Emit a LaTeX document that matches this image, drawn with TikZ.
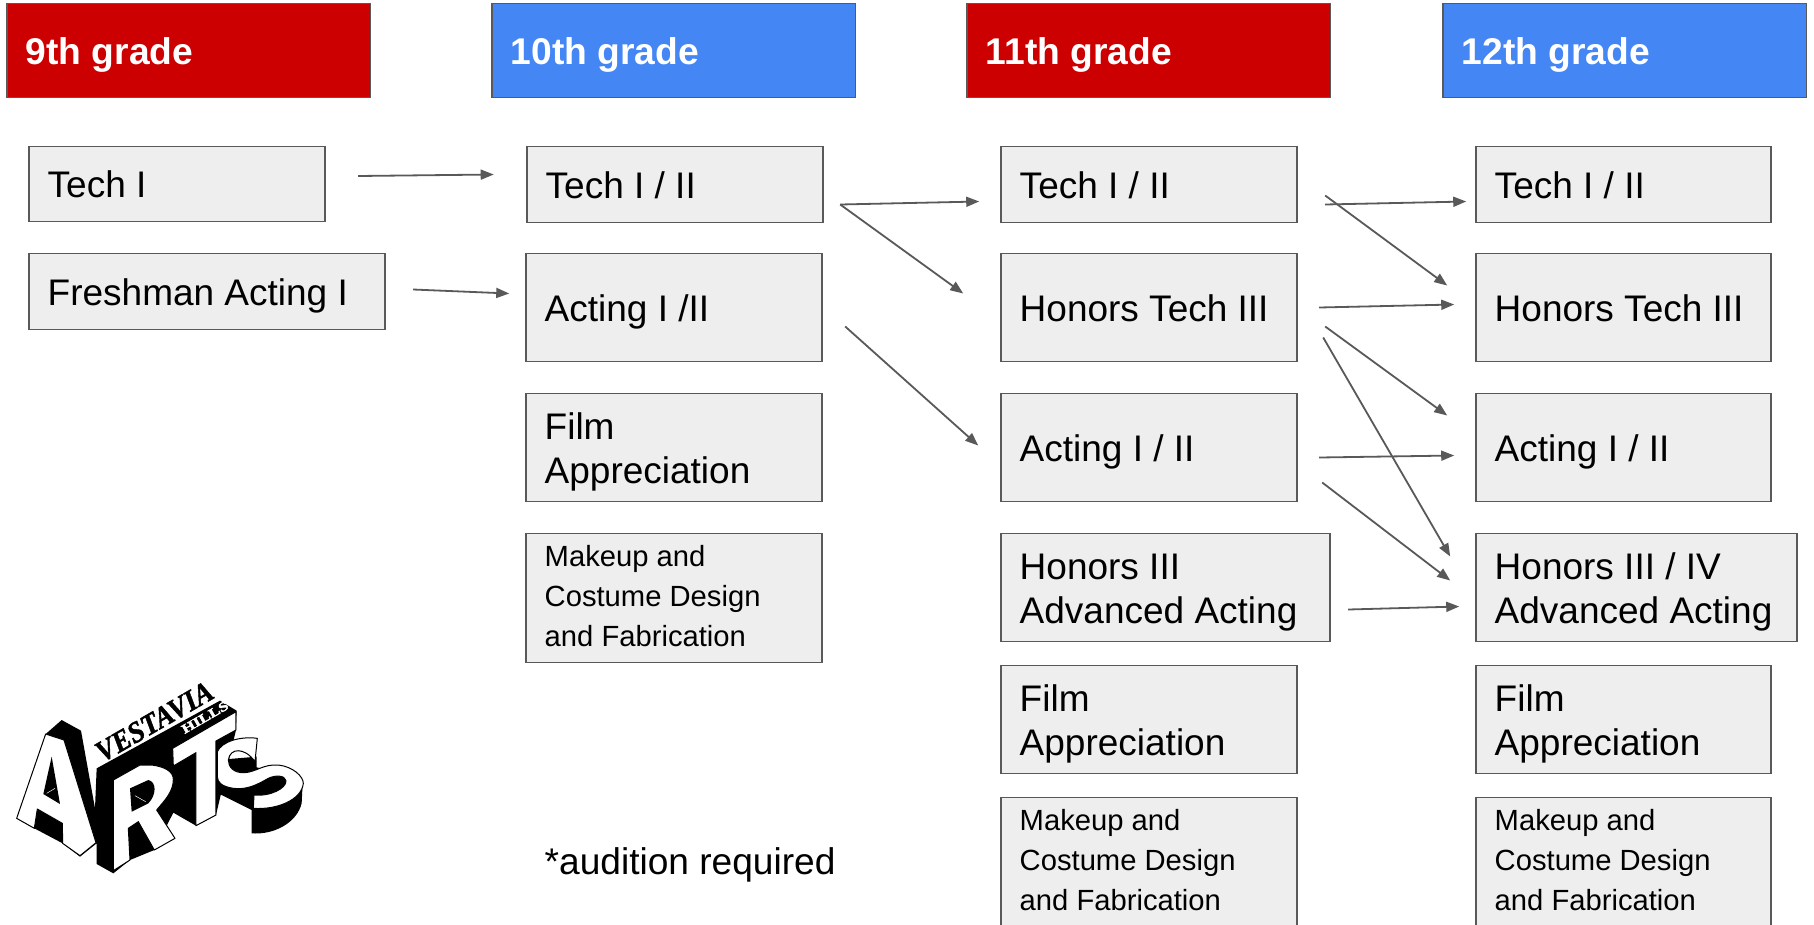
\documentclass[tikz,border=0pt]{standalone}
\usepackage{fontspec}
\setmainfont{Liberation Sans}
\newfontfamily\logoserif{Liberation Serif}[FakeBold=1.5]
\newfontfamily\logoplate{Liberation Serif}[FakeBold=2.5]
\usetikzlibrary{arrows.meta}
\definecolor{gredx}{HTML}{CC0000}
\definecolor{gbluex}{HTML}{4586F5}
\definecolor{gfillx}{HTML}{EEEEEE}
\definecolor{glinex}{HTML}{595959}
\tikzset{
 basebox/.style={draw=glinex,line width=1.7pt,rectangle,anchor=north west,outer sep=0pt,inner xsep=18.5pt,inner ysep=0pt,align=flush left,xshift=0.2pt,yshift=-0.5pt},
 bigtext/.style={font=\fontsize{37}{44}\selectfont,execute at begin node={\rule{0pt}{40pt}},execute at end node={\rule[-13pt]{0pt}{13pt}}},
 smalltext/.style={font=\fontsize{29.2}{40}\selectfont,execute at begin node={\rule{0pt}{30pt}},execute at end node={\rule[-13pt]{0pt}{13pt}}},
 hdr/.style 2 args={basebox,minimum width=#1pt,minimum height=#2pt,text width=#1pt-37pt,text=white,font=\fontsize{37.2}{44}\selectfont\bfseries,execute at begin node={\rule{0pt}{40pt}},execute at end node={\rule[-13pt]{0pt}{13pt}}},
 redhdr/.style={hdr={363.4}{94},fill=gredx},
 bluehdr/.style={hdr={363.4}{94},fill=gbluex},
 course/.style 2 args={basebox,bigtext,fill=gfillx,text=black,minimum width=#1pt,minimum height=#2pt,text width=#1pt-37pt},
 small/.style 2 args={basebox,smalltext,fill=gfillx,text=black,minimum width=#1pt,minimum height=#2pt,text width=#1pt-37pt},
 flow/.style={draw=glinex,line width=1.8pt,-{Triangle[length=13pt,width=10pt]}},
 ink/.style={fill=black,draw=none},
 face/.style={fill=white,draw=black,line width=1pt,line join=round},
}
\begin{document}
\begin{tikzpicture}[x=1pt,y=-1pt]
\clip (0,0) rectangle (1814,924);
\fill[white] (0,0) rectangle (1814,924);
% headers
\node[redhdr] (g9) at (7,3) {9th grade};
\node[bluehdr] (g10) at (492,3) {10th grade};
\node[redhdr] (g11) at (967,3) {11th grade};
\node[bluehdr] (g12) at (1443,3) {12th grade};
% 9th
\node[course={296}{75}] (tech1) at (29,146) {Tech I};
\node[course={356}{76}] (fresh) at (29,253) {Freshman Acting I};
% 10th
\node[course={296}{76}] (t10) at (527,146) {Tech I / II};
\node[course={296}{108}] (a10) at (526,253) {Acting I /II};
\node[course={296}{108}] (f10) at (526,393) {Film\\Appreciation};
\node[small={296}{129}] (m10) at (526,533) {Makeup and\\Costume Design\\and Fabrication};
% 11th
\node[course={296}{76}] (t11) at (1001,146) {Tech I / II};
\node[course={296}{108}] (h11) at (1001,253) {Honors Tech III};
\node[course={296}{108}] (a11) at (1001,393) {Acting I / II};
\node[course={329}{108}] (ha11) at (1001,533) {Honors III\\Advanced Acting};
\node[course={296}{108}] (f11) at (1001,665) {Film\\Appreciation};
\node[small={296}{129}] (m11) at (1001,797) {Makeup and\\Costume Design\\and Fabrication};
% 12th
\node[course={295}{76}] (t12) at (1476,146) {Tech I / II};
\node[course={295}{108}] (h12) at (1476,253) {Honors Tech III};
\node[course={295}{108}] (a12) at (1476,393) {Acting I / II};
\node[course={321}{108}] (ha12) at (1476,533) {Honors III / IV\\Advanced Acting};
\node[course={295}{108}] (f12) at (1476,665) {Film\\Appreciation};
\node[small={295}{129}] (m12) at (1476,797) {Makeup and\\Costume Design\\and Fabrication};
\node[anchor=west,inner sep=0pt,font=\fontsize{37.1}{44}\selectfont] (note) at (544.5,865) {*audition required};
% connectors
\draw[flow] ([shift={(33,-8)}]tech1.east) -- ([shift={(-33.5,-10)}]t10.west);
\draw[flow] ([shift={(28,-2)}]fresh.east) -- ([shift={(-17,-14)}]a10.west);
\draw[flow] ([shift={(17,20)}]t10.east) -- ([shift={(-22,17)}]t11.west);
\draw[flow] ([shift={(17,20)}]t10.east) -- ([shift={(-38,-14)}]h11.west);
\draw[flow] ([shift={(23,19)}]a10.east) -- ([shift={(-23,-2)}]a11.west);
\draw[flow] ([shift={(28,20)}]t11.east) -- ([shift={(-10,17)}]t12.west);
\draw[flow] ([shift={(28,11)}]t11.east) -- ([shift={(-29,-22)}]h12.west);
\draw[flow] ([shift={(22,0)}]h11.east) -- ([shift={(-22,-3)}]h12.west);
\draw[flow] ([shift={(28,19)}]h11.east) -- ([shift={(-29,-32)}]a12.west);
\draw[flow] ([shift={(26,30)}]h11.east) -- ([shift={(-26,-31)}]ha12.west);
\draw[flow] ([shift={(22,10)}]a11.east) -- ([shift={(-22,8)}]a12.west);
\draw[flow] ([shift={(25,35)}]a11.east) -- ([shift={(-26,-7)}]ha12.west);
\draw[flow] ([shift={(18,22)}]ha11.east) -- ([shift={(-17,19)}]ha12.west);
% logo
\begin{scope}[shift={(0,660)},x=0.33333pt,y=-0.33333pt]
% S extrusion and counters
\fill[ink] (652,300) -- (770,290) -- (770,322) -- (850,340) -- (908,370) -- (905,430)
  .. controls (890,490) and (820,525) .. (755,520) -- (755,450) -- (655,400) -- cycle;
% main black mass
\fill[ink] (137,222) -- (185,180) -- (243,212) -- (285,445) -- (290,325) -- (660,122) -- (710,152) -- (708,210) -- (648,465) -- (588,497) -- (520,458) -- (463,570) -- (390,600) -- (340,640) -- (290,612) -- (290,550) -- (240,590) -- (188,550) -- (103,505) -- (50,475) -- cycle;
% A
\path[face] (50,475) -- (137,222) -- (192,240) -- (288,548) -- (240,587) -- (188,550) -- (187,490) -- (112,447) -- (103,505) -- cycle;
\fill[black] (155,290) -- (130,402) -- (180,432) -- cycle;
\draw[white,line width=0.5pt] (140,400) -- (165,385);
% R
\path[face] (340,360) -- (420,315) -- (455,315) .. controls (495,320) and (520,335) .. (520,358) .. controls (520,395) and (495,420) .. (470,450) -- (525,535) -- (463,570) -- (415,485) -- (385,505) -- (390,600) -- (340,632) -- cycle;
\fill[black] (390,385) -- (445,360) .. controls (470,365) and (470,405) .. (445,430) -- (395,455) -- cycle;
\draw[white,line width=0.5pt] (405,407) -- (437,425);
% T
\path[face] (518,265) -- (708,155) -- (708,210) -- (648,243) -- (648,465) -- (588,497) -- (588,278) -- (520,318) -- cycle;
% S face
\path[face] (772,235) -- (765,305) .. controls (735,262) and (690,262) .. (685,300)
  .. controls (685,320) and (700,340) .. (735,338)
  .. controls (770,335) and (790,312) .. (835,315)
  .. controls (880,320) and (910,350) .. (910,370)
  .. controls (905,420) and (830,450) .. (760,445)
  -- (762,405) .. controls (810,410) and (860,385) .. (858,362)
  .. controls (855,345) and (825,345) .. (805,355)
  .. controls (770,375) and (740,390) .. (700,385)
  .. controls (670,380) and (652,370) .. (652,350)
  -- (652,275) .. controls (665,245) and (720,228) .. (772,235) -- cycle;
\node[inner sep=0pt,rotate=30,xscale=0.93,font=\logoserif\bfseries\itshape\fontsize{29.5}{30}\selectfont] (vest) at (463,185) {VESTAVIA};
\node[inner sep=0pt,rotate=30,xscale=1.3,text=white,font=\logoplate\bfseries\fontsize{13}{14}\selectfont] (hills) at (615,172) {HILLS};
\end{scope}
\end{tikzpicture}
\end{document}
